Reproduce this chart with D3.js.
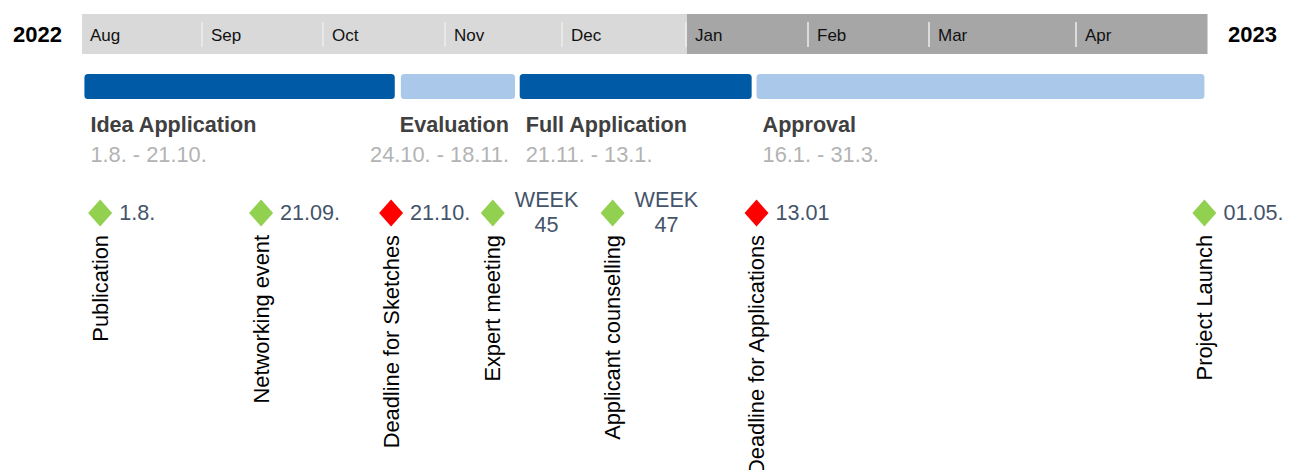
<!DOCTYPE html>
<html>
<head>
<meta charset="utf-8">
<title>Timeline</title>
<script src="https://d3js.org/d3.v7.min.js"></script>
<style>
  body { margin: 0; background: #fff; }
  text { font-family: "Liberation Sans", Arial, sans-serif; }
</style>
</head>
<body>
<div id="chart"></div>
<script>
// header months
let months = ["Aug", "Sep", "Oct", "Nov", "Dec", "Jan", "Feb", "Mar", "Apr"];
let monthYears = [2022, 2022, 2022, 2022, 2022, 2023, 2023, 2023, 2023];
let years = [2022, 2023];

// phases, start/end in month units counted from the start of Aug
let phaseNames = ["Idea Application", "Evaluation", "Full Application", "Approval"];
let phaseDates = ["1.8. - 21.10.", "24.10. - 18.11.", "21.11. - 13.1.", "16.1. - 31.3."];
let phaseStart = [0.02, 2.63, 3.63, 5.57];
let phaseEnd = [2.58, 3.59, 5.53, 8.98];

// milestones
let milestoneNames = ["Publication", "Networking event", "Deadline for Sketches", "Expert meeting",
                      "Applicant counselling", "Deadline for Applications", "Project Launch"];
let milestoneLabels = [["1.8."], ["21.09."], ["21.10."], ["WEEK", "45"], ["WEEK", "47"], ["13.01"], ["01.05."]];
let milestonePos = [0.15, 1.48, 2.55, 3.40, 4.40, 5.57, 8.98];
let milestoneDeadline = [false, false, true, false, false, true, false];

let W = 1289, H = 470;

let svg = d3.select("#chart")
    .append("svg")
    .attr("width", W)
    .attr("height", H);

// month cells are not all the same width in the original slide
let x = d3.scaleLinear()
    .domain(d3.range(months.length + 1))
    .range([82, 203, 324, 446, 563, 687, 809, 930, 1077, 1207]);

// header band
let head = svg.append("g");
head.selectAll("rect")
    .data(months)
    .enter()
    .append("rect")
    .attr("x", (d, i) => x(i))
    .attr("y", 14)
    .attr("width", (d, i) => x(i + 1) - x(i) + 0.5)
    .attr("height", 40)
    .attr("fill", (d, i) => monthYears[i] === years[0] ? "#d9d9d9" : "#a6a6a6");

head.selectAll("line")
    .data(months.slice(1))
    .enter()
    .append("line")
    .attr("x1", (d, i) => x(i + 1) - 1)
    .attr("x2", (d, i) => x(i + 1) - 1)
    .attr("y1", 22)
    .attr("y2", 47)
    .attr("stroke", "#ececec")
    .attr("stroke-width", 1.5);

head.selectAll("text")
    .data(months)
    .enter()
    .append("text")
    .attr("x", (d, i) => x(i) + 8)
    .attr("y", 41)
    .attr("font-size", "17px")
    .attr("fill", "#111")
    .text(d => d);

// years either side
svg.append("text")
    .attr("x", x(0) - 20)
    .attr("y", 42)
    .attr("text-anchor", "end")
    .attr("font-size", "22px")
    .attr("font-weight", "bold")
    .attr("fill", "#000")
    .text(years[0]);
svg.append("text")
    .attr("x", x(months.length) + 21)
    .attr("y", 42)
    .attr("font-size", "22px")
    .attr("font-weight", "bold")
    .attr("fill", "#000")
    .text(years[1]);

// phase bars
svg.selectAll(".bar")
    .data(phaseNames)
    .enter()
    .append("rect")
    .attr("class", "bar")
    .attr("x", (d, i) => x(phaseStart[i]))
    .attr("y", 74)
    .attr("width", (d, i) => x(phaseEnd[i]) - x(phaseStart[i]))
    .attr("height", 25)
    .attr("rx", 3.5)
    .attr("fill", (d, i) => i % 2 === 0 ? "#005aa5" : "#a9c8ea");

// phase labels: left aligned, or right aligned when wider than the bar
phaseNames.forEach(function(name, i) {
    let g = svg.append("g");
    let t1 = g.append("text")
        .attr("y", 132)
        .attr("font-size", "21.6px")
        .attr("font-weight", "bold")
        .attr("fill", "#404040")
        .text(name);
    let t2 = g.append("text")
        .attr("y", 162)
        .attr("font-size", "21.8px")
        .attr("fill", "#b3b3b3")
        .text(phaseDates[i]);
    let wide = Math.max(t1.node().getComputedTextLength(), t2.node().getComputedTextLength());
    let bw = x(phaseEnd[i]) - x(phaseStart[i]);
    if (wide > bw) {
        g.selectAll("text").attr("x", x(phaseEnd[i]) - 6).attr("text-anchor", "end");
    } else {
        g.selectAll("text").attr("x", x(phaseStart[i]) + 6);
    }
});

// milestones
let my = 213;
let ms = svg.selectAll(".ms")
    .data(milestoneNames)
    .enter()
    .append("g")
    .attr("class", "ms")
    .attr("transform", (d, i) => "translate(" + x(milestonePos[i]) + "," + my + ")");

ms.append("path")
    .attr("d", "M0,-13.5L12,0L0,13.5L-12,0Z")
    .attr("fill", (d, i) => milestoneDeadline[i] ? "#ff0000" : "#92d050");

ms.append("text")
    .attr("transform", "translate(7.5,22) rotate(-90)")
    .attr("text-anchor", "end")
    .attr("font-size", "21.8px")
    .attr("fill", "#000")
    .text(d => d);

ms.each(function(d, i) {
    let lines = milestoneLabels[i];
    let g = d3.select(this);
    if (lines.length === 1) {
        g.append("text")
            .attr("x", 19)
            .attr("y", 7)
            .attr("font-size", "21.6px")
            .attr("fill", "#44546a")
            .text(lines[0]);
    } else {
        let t = g.append("text")
            .attr("font-size", "21.6px")
            .attr("fill", "#44546a")
            .attr("text-anchor", "middle");
        lines.forEach(function(l, j) {
            t.append("tspan").attr("y", -6 + j * 25).text(l);
        });
        let w = d3.max(t.selectAll("tspan").nodes(), n => n.getComputedTextLength());
        t.selectAll("tspan").attr("x", 22 + w / 2);
    }
});
</script>
</body>
</html>
